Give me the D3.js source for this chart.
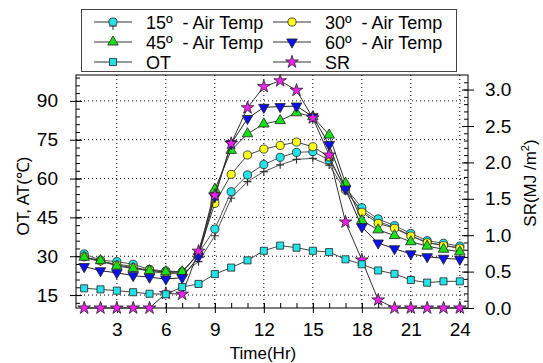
<!DOCTYPE html>
<html>
<head>
<meta charset="utf-8">
<script src="https://cdn.jsdelivr.net/npm/d3@7"></script>
<style>
  html, body { margin: 0; padding: 0; background: #fff; }
  svg { display: block; font-family: "Liberation Sans", Arial, sans-serif; }
  .legend text { white-space: pre; }
</style>
</head>
<body>
<div id="chart"></div>
<script>
const hours = d3.range(1, 25);

const t15 = [30.9, 28.5, 27.9, 26.9, 24.9, 24.3, 24.0, 31.1, 40.5, 54.9, 61.4, 65.4,
  68.2, 70.1, 70.4, 67.2, 56.5, 48.7, 44.4, 41.8, 38.8, 36.0, 35.0, 33.9];
const t15cross = [29.6, 27.8, 27.0, 26.0, 24.0, 23.5, 23.1, 27.9, 37.9, 52.4, 58.8, 62.7,
  65.3, 67.4, 67.8, 65.2, 55.2, 47.6, 43.5, 41.0, 38.0, 35.3, 34.3, 33.2];
const t30 = [29.8, 28.2, 26.6, 25.6, 24.7, 23.8, 23.8, 31.1, 50.4, 61.6, 69.1, 71.4,
  72.8, 74.1, 72.3, 68.4, 55.6, 47.0, 42.7, 40.8, 37.8, 35.2, 34.1, 33.1];
const t45 = [29.6, 28.3, 26.2, 25.3, 24.4, 24.0, 24.0, 30.7, 55.8, 70.9, 77.3, 81.1,
  82.4, 85.4, 83.9, 76.8, 58.2, 43.8, 40.2, 38.0, 35.6, 33.9, 32.7, 31.7];
const t60 = [26.0, 24.4, 23.6, 22.5, 21.9, 21.2, 21.7, 29.8, 53.0, 73.5, 83.2, 87.5,
  87.8, 88.0, 83.9, 73.1, 55.9, 41.3, 35.1, 32.9, 30.9, 29.8, 29.2, 28.8];
const ot = [17.6, 17.2, 16.7, 16.1, 15.5, 15.3, 18.1, 19.3, 23.1, 25.6, 28.4, 32.1,
  34.1, 33.3, 32.1, 31.6, 28.8, 26.9, 24.5, 23.2, 20.8, 19.8, 20.3, 20.3];
const sr = [0, 0, 0, 0, 0, 0.2, 0.19, 0.78, 1.55, 2.26, 2.75, 3.04,
  3.12, 2.99, 2.61, 2.10, 1.18, 0.66, 0.11, 0, 0, 0, 0, 0];

const xTicks = [3, 6, 9, 12, 15, 18, 21, 24];
const leftTicks = [15, 30, 45, 60, 75, 90];
const rightTicks = [0, 0.5, 1.0, 1.5, 2.0, 2.5, 3.0];

const legendItems = [
  { key: "t15", label: "15º  - Air Temp", col: 0, row: 0 },
  { key: "t30", label: "30º  - Air Temp", col: 1, row: 0 },
  { key: "t45", label: "45º  - Air Temp", col: 0, row: 1 },
  { key: "t60", label: "60º  - Air Temp", col: 1, row: 1 },
  { key: "ot", label: "OT", col: 0, row: 2 },
  { key: "sr", label: "SR", col: 1, row: 2 },
];

const width = 543;
const height = 363;
const margin = { top: 75, right: 75, bottom: 55, left: 76 };
const plotW = width - margin.left - margin.right;
const plotH = height - margin.top - margin.bottom;

const svg = d3.select("#chart")
  .append("svg")
  .attr("width", width)
  .attr("height", height);

const g = svg.append("g").attr("transform", `translate(${margin.left},${margin.top})`);

const x = d3.scaleLinear().domain([0.5, 24.5]).range([0, plotW]);
const yL = d3.scaleLinear().domain([10, 100]).range([plotH, 0]);
const yR = d3.scaleLinear().domain([0, 3.2]).range([plotH, 0]);

// dotted grid
g.append("g")
  .selectAll("line")
  .data(xTicks)
  .join("line")
  .attr("x1", (d) => x(d)).attr("x2", (d) => x(d))
  .attr("y1", 0).attr("y2", plotH)
  .attr("stroke", "#000").attr("stroke-width", 1)
  .attr("stroke-dasharray", "1,3");

g.append("g")
  .selectAll("line")
  .data(leftTicks)
  .join("line")
  .attr("x1", 0).attr("x2", plotW)
  .attr("y1", (d) => yL(d)).attr("y2", (d) => yL(d))
  .attr("stroke", "#000").attr("stroke-width", 1)
  .attr("stroke-dasharray", "1,3");

// axes
function styleAxis(sel) {
  sel.select(".domain").remove();
  sel.selectAll("line").attr("stroke", "#000");
  sel.selectAll("text")
    .attr("fill", "#000")
    .attr("font-size", 19)
    .attr("font-family", "Liberation Sans, Arial, sans-serif");
}

const xMinor = g.append("g")
  .attr("transform", `translate(0,${plotH})`)
  .call(d3.axisBottom(x).tickValues(hours).tickSize(-5).tickFormat(""));
styleAxis(xMinor);

const xAxis = g.append("g")
  .attr("transform", `translate(0,${plotH})`)
  .call(d3.axisBottom(x).tickValues(xTicks).tickSize(5).tickPadding(10));
styleAxis(xAxis);
xAxis.selectAll("line").attr("y1", -5);

const lMinor = g.append("g")
  .call(d3.axisLeft(yL).tickValues(d3.range(12, 100, 3)).tickSize(-4).tickFormat(""));
styleAxis(lMinor);

const lAxis = g.append("g")
  .call(d3.axisLeft(yL).tickValues(leftTicks).tickSize(6).tickPadding(12));
styleAxis(lAxis);
lAxis.selectAll("line").attr("x1", 6);

const rMinor = g.append("g")
  .attr("transform", `translate(${plotW},0)`)
  .call(d3.axisRight(yR).tickValues(d3.range(1, 32).map((d) => d / 10)).tickSize(-4).tickFormat(""));
styleAxis(rMinor);

const rAxis = g.append("g")
  .attr("transform", `translate(${plotW},0)`)
  .call(d3.axisRight(yR).tickValues(rightTicks).tickSize(6).tickPadding(11).tickFormat(d3.format(".1f")));
styleAxis(rAxis);
rAxis.selectAll("line").attr("x1", -6);

// frame
g.append("rect")
  .attr("x", 0).attr("y", 0)
  .attr("width", plotW).attr("height", plotH)
  .attr("fill", "none")
  .attr("stroke", "#000")
  .attr("stroke-width", 1);

// series
const symbols = {
  circle: d3.symbol().type(d3.symbolCircle).size(52)(),
  triUp: d3.symbol().type(d3.symbolTriangle).size(48)(),
  triDown: d3.symbol().type(d3.symbolTriangle).size(48)(),
  square: d3.symbol().type(d3.symbolSquare).size(50)(),
  star: d3.symbol().type(d3.symbolStar).size(50)(),
  cross: "M-4,0H4M0,-4V4",
};

const series = {
  t15cross: { values: t15cross, scale: yL, symbol: "cross", fill: "none", line: "#555" },
  t15: { values: t15, scale: yL, symbol: "circle", fill: "#22e3e8", line: "#555" },
  t30: { values: t30, scale: yL, symbol: "circle", fill: "#ffff1a", line: "#444" },
  t45: { values: t45, scale: yL, symbol: "triUp", fill: "#18e018", line: "#333" },
  t60: { values: t60, scale: yL, symbol: "triDown", fill: "#0a10ee", line: "#222" },
  sr: { values: sr, scale: yR, symbol: "star", fill: "#f020f0", line: "#333" },
  ot: { values: ot, scale: yL, symbol: "square", fill: "#22e3e8", line: "#444" },
};

const drawOrder = ["t15cross", "t15", "t30", "t45", "t60", "sr", "ot"];

drawOrder.forEach((key) => {
  const s = series[key];
  const pts = hours.map((h, i) => ({ h, v: s.values[i] }));
  const line = d3.line().x((d) => x(d.h)).y((d) => s.scale(d.v));

  g.append("path")
    .datum(pts)
    .attr("fill", "none")
    .attr("stroke", s.line)
    .attr("stroke-width", 1)
    .attr("d", line);

  g.append("g")
    .selectAll("path")
    .data(pts)
    .join("path")
    .attr("transform", (d) =>
      `translate(${x(d.h)},${s.scale(d.v)})` + (s.symbol === "triDown" ? " rotate(180)" : ""))
    .attr("d", symbols[s.symbol])
    .attr("fill", s.fill)
    .attr("stroke", s.symbol === "cross" ? "#333" : "#222")
    .attr("stroke-width", s.symbol === "cross" ? 1.2 : 0.8);
});

// axis titles
svg.append("text")
  .attr("transform", "translate(29,196) rotate(-90)")
  .attr("text-anchor", "middle")
  .attr("font-size", 17)
  .text("OT, AT(\u2103)");

const srTitle = svg.append("text")
  .attr("transform", "translate(536,183) rotate(-90)")
  .attr("text-anchor", "middle")
  .attr("font-size", 17);
srTitle.append("tspan").text("SR(MJ /m");
srTitle.append("tspan").attr("font-size", 11).attr("dy", -7).text("2");
srTitle.append("tspan").attr("dy", 7).text(")");

svg.append("text")
  .attr("x", 263)
  .attr("y", 359)
  .attr("text-anchor", "middle")
  .attr("font-size", 17)
  .text("Time(Hr)");

// legend
const legend = svg.append("g").attr("class", "legend");
legend.append("rect")
  .attr("x", 81.5).attr("y", 9.5)
  .attr("width", 375).attr("height", 62)
  .attr("fill", "#fff")
  .attr("stroke", "#444")
  .attr("stroke-width", 1);

const colX = [94, 273];
const rowY = [22, 42, 62];

legendItems.forEach((item) => {
  const s = series[item.key];
  const x0 = colX[item.col];
  const yy = rowY[item.row];
  const it = legend.append("g");
  it.append("line")
    .attr("x1", x0).attr("x2", x0 + 38)
    .attr("y1", yy).attr("y2", yy)
    .attr("stroke", "#333");
  if (item.key === "t15") {
    it.append("path")
      .attr("transform", `translate(${x0 + 19},${yy + 4})`)
      .attr("d", symbols.cross)
      .attr("stroke", "#333");
  }
  it.append("path")
    .attr("transform", `translate(${x0 + 19},${yy})` + (s.symbol === "triDown" ? " rotate(180)" : ""))
    .attr("d", symbols[s.symbol])
    .attr("fill", s.fill)
    .attr("stroke", "#222")
    .attr("stroke-width", 0.8);
  it.append("text")
    .attr("x", x0 + 52)
    .attr("y", yy + 6.5)
    .attr("font-size", 18)
    .text(item.label);
});
</script>
</body>
</html>
